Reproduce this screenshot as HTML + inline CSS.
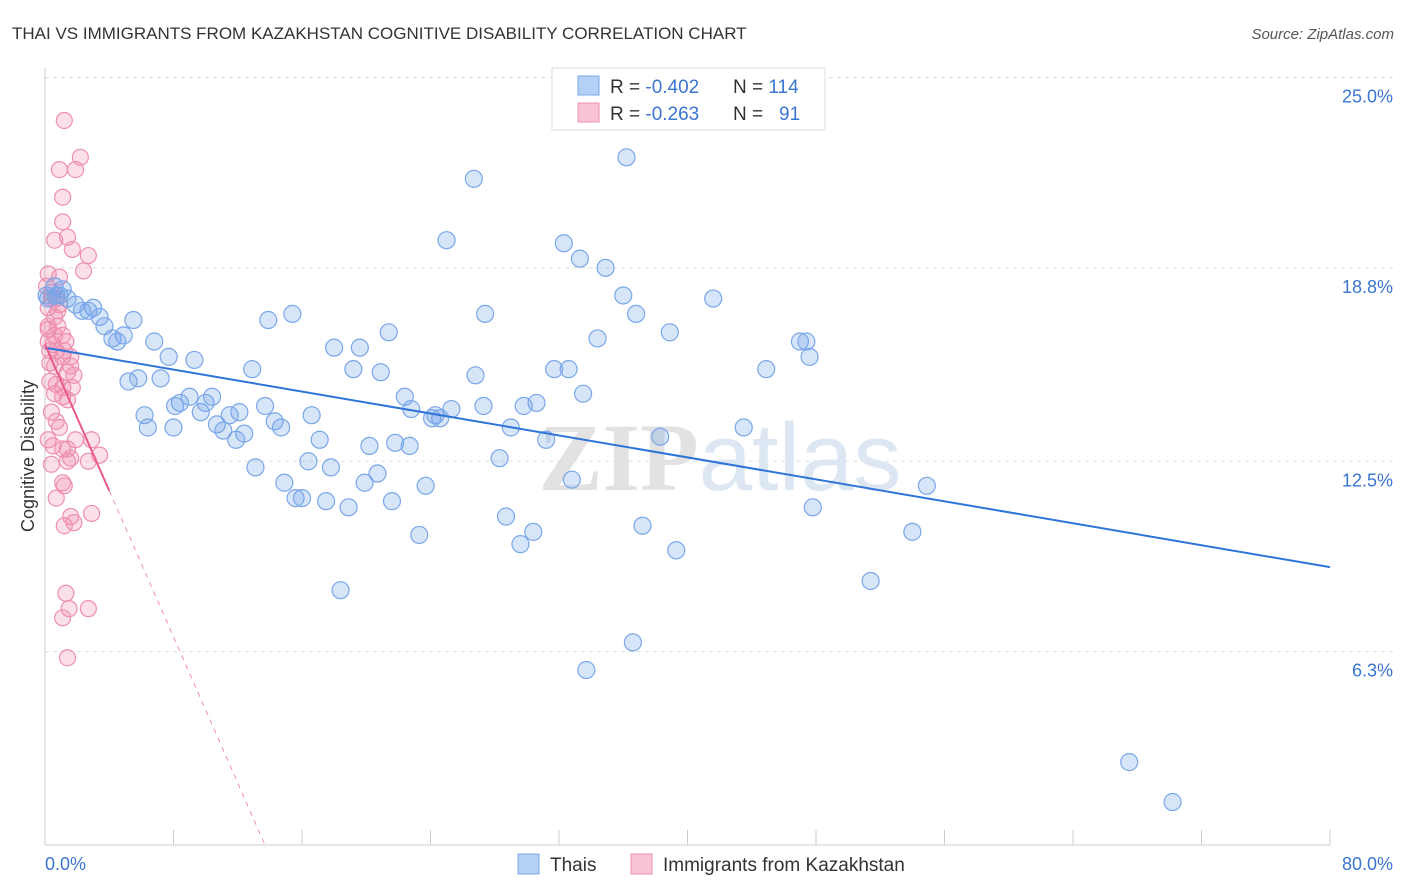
<!DOCTYPE html>
<html><head><meta charset="utf-8">
<style>
body{margin:0;background:#fff;font-family:"Liberation Sans",sans-serif;}
svg{display:block}
</style></head><body>
<svg id="chart" width="1406" height="892" viewBox="0 0 1406 892" xmlns="http://www.w3.org/2000/svg">
<text x="12" y="39" font-size="17" fill="#333">THAI VS IMMIGRANTS FROM KAZAKHSTAN COGNITIVE DISABILITY CORRELATION CHART</text>
<text x="1394" y="39" font-size="15" fill="#555" text-anchor="end" font-style="italic">Source: ZipAtlas.com</text>
<g id="grid"></g>
<text x="720" y="490" font-size="96" fill="#e6e6e6" text-anchor="middle" font-weight="bold"><tspan fill="#e2e2e2" font-family="Liberation Serif">ZIP</tspan><tspan fill="#dde6f3" font-weight="normal">atlas</tspan></text>
<g id="pts"></g>
<g id="lines"></g>
<text transform="translate(34,456) rotate(-90)" font-size="18" fill="#333" text-anchor="middle">Cognitive Disability</text>
<text x="45" y="870" font-size="18" fill="#3a75d0">0.0%</text>
<text x="1393" y="870" font-size="18" fill="#3a75d0" text-anchor="end">80.0%</text>
<g>
<rect x="552" y="68" width="273" height="62" fill="#fff" stroke="#ddd"/>
<rect x="578" y="76" width="21" height="19" fill="#b5d0f5" stroke="#7aa7e8"/>
<rect x="578" y="103" width="21" height="19" fill="#f9c5d6" stroke="#ee8fb0"/>
<text x="610" y="93" font-size="19" fill="#333">R = <tspan fill="#3a75d0">-0.402</tspan><tspan x="733">N = </tspan><tspan fill="#3a75d0">114</tspan></text>
<text x="610" y="120" font-size="19" fill="#333">R = <tspan fill="#3a75d0"> -0.263</tspan><tspan x="733">N = </tspan><tspan x="779" fill="#3a75d0">91</tspan></text>
</g>
<g>
<rect x="518" y="854" width="21" height="20" fill="#b5d0f5" stroke="#7aa7e8"/>
<text x="550" y="871" font-size="19" fill="#333">Thais</text>
<rect x="631" y="854" width="21" height="20" fill="#f9c5d6" stroke="#ee8fb0"/>
<text x="663" y="871" font-size="19" fill="#333">Immigrants from Kazakhstan</text>
</g>
</svg>
<script>
const yTicks=[6.3,12.5,18.8,25.0];
const yTickLabels=["6.3%","12.5%","18.8%","25.0%"];
const xTicks=[0,8,16,24,32,40,48,56,64,72,80];
const thaiX=[36.2,26.7,25.0,32.3,33.3,34.9,36.0,41.6,36.8,27.4,38.9,34.4,21.4,15.4,13.9,18.0,19.6,47.0,47.4,47.6,44.9,31.7,32.6,26.8,19.2,20.9,12.9,33.5,22.4,22.8,25.3,24.3,27.3,29.8,30.6,24.1,24.6,29.0,31.2,38.3,43.5,17.1,20.2,21.8,22.7,13.7,14.3,14.7,16.6,28.3,16.4,17.8,13.1,20.7,19.9,32.8,14.9,23.7,54.9,15.6,16.0,17.5,21.6,18.9,28.7,47.8,37.2,30.4,29.6,23.3,39.3,54.0,18.4,51.4,36.6,33.7,67.5,70.2,0.6,0.9,1.4,0.2,1.9,3.0,2.3,2.7,3.4,3.7,5.5,4.9,4.2,4.5,6.8,7.7,9.3,5.2,5.8,7.2,9.0,8.4,8.1,6.2,6.4,8.0,9.7,10.0,10.4,10.7,11.1,11.5,12.1,11.9,12.4,1.1,0.7,0.1];
const thaiY=[22.4,21.7,19.7,19.6,19.1,18.8,17.9,17.8,17.3,17.3,16.7,16.5,16.7,17.3,17.1,16.2,16.2,16.4,16.4,15.9,15.5,15.5,15.5,15.3,15.5,15.4,15.5,14.7,14.6,14.2,14.2,14.0,14.3,14.3,14.4,13.9,13.9,13.6,13.2,13.3,13.6,13.2,13.0,13.1,13.0,14.3,13.8,13.6,14.0,12.6,12.5,12.3,12.3,12.1,11.8,11.9,11.8,11.7,11.7,11.3,11.3,11.2,11.2,11.0,10.7,11.0,10.4,10.2,9.8,10.1,9.6,10.2,8.3,8.6,6.6,5.7,2.7,1.4,18.2,17.9,17.8,17.8,17.6,17.5,17.4,17.4,17.2,16.9,17.1,16.6,16.5,16.4,16.4,15.9,15.8,15.1,15.2,15.2,14.6,14.4,14.3,14.0,13.6,13.6,14.1,14.4,14.6,13.7,13.5,14.0,14.1,13.2,13.4,18.1,17.9,17.9];
const kazX=[1.2,2.2,0.9,1.9,1.1,1.1,0.6,1.4,1.7,2.7,0.2,0.9,2.4,0.1,0.4,0.7,0.2,0.6,0.8,1.1,0.2,0.5,1.3,0.7,1.1,1.6,0.3,0.6,1.4,1.8,0.3,0.7,1.1,1.7,1.1,1.4,0.4,0.7,0.9,0.2,0.5,1.1,1.9,2.9,1.4,1.6,1.4,2.7,3.4,0.4,1.1,1.2,0.7,1.6,1.8,1.2,2.9,1.3,1.5,2.7,1.1,1.4,0.2,0.6,0.4,0.2,0.8,0.9,1.2,1.6,0.3,0.6];
const kazY=[23.6,22.4,22.0,22.0,21.1,20.3,19.7,19.8,19.4,19.2,18.6,18.5,18.7,18.2,18.0,17.8,17.5,17.2,16.9,16.6,16.4,16.3,16.4,16.1,15.9,15.9,15.7,15.6,15.4,15.3,15.1,15.0,14.9,14.9,14.6,14.5,14.1,13.8,13.6,13.2,13.0,12.9,13.2,13.2,12.9,12.6,12.5,12.5,12.7,12.4,11.8,11.7,11.3,10.7,10.5,10.4,10.8,8.2,7.7,7.7,7.4,6.1,16.8,16.6,17.8,16.9,17.4,17.6,16.1,15.6,16.1,14.7];
const thaiTrend=[16.2,9.05];
const kazTrend=[16.3,-1.19];
const NS="http://www.w3.org/2000/svg";
const X=v=>45+v*(1285/80);
const Y=v=>845-v*30.7;
function mk(tag,attrs,parent){const e=document.createElementNS(NS,tag);for(const k in attrs)e.setAttribute(k,attrs[k]);parent.appendChild(e);return e;}
const grid=document.getElementById('grid');
yTicks.forEach((t,i)=>{
  const l=mk('line',{x1:45,x2:1394,y1:Y(t),y2:Y(t),stroke:'#ddd','stroke-dasharray':'4,4'},grid);
  
  
  const tx=mk('text',{x:1393,y:Y(t)+25,'font-size':18,fill:'#3a75d0','text-anchor':'end'},grid);
  tx.textContent=yTickLabels[i];
  
  
});
const ax=mk('line',{x1:45,x2:45,y1:68,y2:845,stroke:'#ccc'},grid);


const bx=mk('line',{x1:45,x2:1330,y1:845,y2:845,stroke:'#ccc'},grid);


xTicks.forEach(t=>{
  const l=mk('line',{x1:X(t),x2:X(t),y1:830,y2:845,stroke:'#ccc'},grid);
  
  
});
const pts=document.getElementById('pts');
kazX.forEach((v,i)=>{
  const c=mk('circle',{cx:X(v),cy:Y(kazY[i]),r:8,fill:'rgba(242,140,175,0.28)',stroke:'#ee8fb0','stroke-width':1.2},pts);
  
  
});
thaiX.forEach((v,i)=>{
  const c=mk('circle',{cx:X(v),cy:Y(thaiY[i]),r:8.5,fill:'rgba(110,160,235,0.28)',stroke:'#7aa7e8','stroke-width':1.2},pts);
  
  
});
const lines=document.getElementById('lines');
const tl=mk('line',{x1:X(0),y1:Y(thaiTrend[0]),x2:X(80),y2:Y(thaiTrend[1]),stroke:'#2f74d8','stroke-width':2},lines);


const kEnd=-kazTrend[0]/kazTrend[1];
const kl=mk('line',{x1:X(0),y1:Y(kazTrend[0]),x2:X(4),y2:Y(kazTrend[0]+kazTrend[1]*4),stroke:'#e9588a','stroke-width':2},lines);


const kd=mk('line',{x1:X(4),y1:Y(kazTrend[0]+kazTrend[1]*4),x2:X(kEnd),y2:Y(0),stroke:'#ee8fb0','stroke-width':1,'stroke-dasharray':'5,5'},lines);


</script>
</body></html>
